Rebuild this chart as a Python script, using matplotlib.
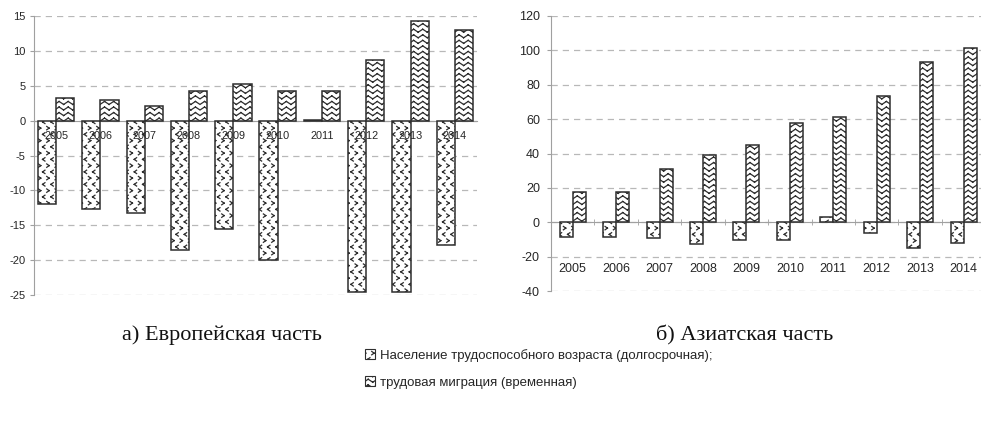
import numpy as np
import matplotlib
matplotlib.use("Agg")
import matplotlib.pyplot as plt
from matplotlib import hatch as mhatch
from matplotlib.path import Path
from matplotlib.patches import Patch

# ---------------- data ----------------
years = ['2005', '2006', '2007', '2008', '2009', '2010', '2011', '2012', '2013', '2014']
eu_longterm = [-12.0, -12.7, -13.3, -18.5, -15.5, -20.0, 0.15, -24.6, -24.6, -17.8]
eu_labour = [3.3, 2.95, 2.1, 4.2, 5.2, 4.2, 4.3, 8.7, 14.3, 13.0]
as_longterm = [-8.5, -8.5, -9.1, -12.6, -10.6, -10.6, 3.3, -6.0, -14.9, -12.0]
as_labour = [17.4, 17.4, 31.2, 38.9, 45.1, 57.5, 61.5, 73.5, 93.3, 101.6]
eu_yticks = [-25, -20, -15, -10, -5, 0, 5, 10, 15]
as_yticks = [-40, -20, 0, 20, 40, 60, 80, 100, 120]
titles = ['а) Европейская часть', 'б) Азиатская часть']
legend_labels = ['Население трудоспособного возраста (долгосрочная);',
                 'трудовая миграция (временная)']


# ---------------- custom hatches ----------------
class ZigZagHatch(mhatch.HatchPatternBase):
    """Rows of '^' chevrons (zigzag), triggered by '*'."""
    def __init__(self, hatch, density):
        n = hatch.count('*')
        self.rows = 18 * n
        self.teeth = 11
        self.num_vertices = self.rows * self.teeth * 4

    def set_vertices_and_codes(self, vertices, codes):
        if not self.num_vertices:
            return
        w = 1.0 / self.teeth
        amp = 0.03
        k = 0
        for r in range(self.rows):
            y = (r + 0.2) / self.rows
            for t in range(self.teeth):
                x0 = t * w
                vertices[k:k + 4] = [(x0, y), (x0 + w / 2, y + amp),
                                     (x0 + w / 2, y + amp), (x0 + w, y)]
                codes[k:k + 4] = [Path.MOVETO, Path.LINETO, Path.MOVETO, Path.LINETO]
                k += 4


class AngleHatch(mhatch.HatchPatternBase):
    """Staggered '<' and '>' marks, triggered by 'o'."""
    def __init__(self, hatch, density):
        n = hatch.count('o')
        self.rows = 16 * n
        self.cols = 12
        self.num_vertices = self.rows * self.cols * 4

    def set_vertices_and_codes(self, vertices, codes):
        if not self.num_vertices:
            return
        hw, hh = 0.012, 0.017
        k = 0
        for r in range(self.rows):
            y = (r + 0.5) / self.rows
            s = -1 if r % 2 == 0 else 1
            for c in range(self.cols):
                x = (c + 0.25 + 0.5 * (r % 2)) / self.cols
                tip = (x + s * hw, y)
                a = (x - s * hw, y + hh)
                b = (x - s * hw, y - hh)
                vertices[k:k + 4] = [a, tip, tip, b]
                codes[k:k + 4] = [Path.MOVETO, Path.LINETO, Path.MOVETO, Path.LINETO]
                k += 4


mhatch._hatch_types = [t for t in mhatch._hatch_types
                       if t not in (mhatch.SmallCircles, mhatch.Stars)] + [AngleHatch, ZigZagHatch]

plt.rcParams['hatch.color'] = '#2e2e2e'
plt.rcParams['hatch.linewidth'] = 0.9
plt.rcParams['axes.unicode_minus'] = False
plt.rcParams['font.family'] = ['Liberation Sans', 'DejaVu Sans']

EDGE = '#2e2e2e'
NEG_HATCH = 'o'
POS_HATCH = '*'
AXC = '#a0a0a0'
TXT = '#262626'

fig = plt.figure(figsize=(9.81, 4.21), dpi=100)
ax1 = fig.add_axes([34 / 981, 1 - 295 / 421, (477 - 34) / 981, (295 - 16) / 421])
ax2 = fig.add_axes([551 / 981, 1 - 291 / 421, (981 - 551) / 981, (291 - 16) / 421])


def style(ax, ylim, yticks, fs, pad):
    ax.set_ylim(ylim)
    ax.set_yticks(yticks)
    ax.yaxis.grid(True, color='#b8b8b8', linestyle=(0, (5, 4)), linewidth=0.9)
    ax.set_axisbelow(True)
    for s in ['top', 'right']:
        ax.spines[s].set_visible(False)
    ax.spines['left'].set_color(AXC)
    ax.spines['bottom'].set_position(('data', 0))
    ax.spines['bottom'].set_color(AXC)
    ax.spines['bottom'].set_zorder(1.5)
    ax.tick_params(axis='y', length=3, color=AXC, labelsize=fs,
                   labelcolor=TXT, pad=pad)
    ax.set_xticks([])


x = np.arange(len(years)) + 0.5

# left chart
w1 = 0.41
ax1.set_xlim(0, 10)
ax1.bar(x - w1 / 2, eu_longterm, width=w1, facecolor='white', edgecolor=EDGE,
        linewidth=1.1, hatch=NEG_HATCH, zorder=2)
ax1.bar(x + w1 / 2, eu_labour, width=w1, facecolor='white', edgecolor=EDGE,
        linewidth=1.1, hatch=POS_HATCH, zorder=2)
style(ax1, (-25, 15), eu_yticks, 8, 3)
for xi, yr in zip(x, years):
    ax1.text(xi, -2.2, yr, ha='center', va='center', fontsize=7.8,
             color=TXT, zorder=3)

# right chart
w2 = 0.30
ax2.set_xlim(0, 9.9)
ax2.bar(x - w2 / 2, as_longterm, width=w2, facecolor='white', edgecolor=EDGE,
        linewidth=1.1, hatch=NEG_HATCH, zorder=2)
ax2.bar(x + w2 / 2, as_labour, width=w2, facecolor='white', edgecolor=EDGE,
        linewidth=1.1, hatch=POS_HATCH, zorder=2)
style(ax2, (-40, 120), as_yticks, 9, 5)
ax2.set_xticks(np.arange(1, 10), minor=True)
ax2.tick_params(axis='x', which='minor', direction='inout', length=4, color=AXC)
for xi, yr in zip(x, years):
    ax2.text(xi, -27, yr, ha='center', va='center', fontsize=9,
             color=TXT, zorder=3)

# titles
fig.text(222 / 981, 1 - 335 / 421, titles[0], ha='center', va='center',
         fontsize=16, family='Liberation Serif', color='#111111')
fig.text(745 / 981, 1 - 335 / 421, titles[1], ha='center', va='center',
         fontsize=16, family='Liberation Serif', color='#111111')

# legend
handles = [Patch(facecolor='white', edgecolor=EDGE, hatch=NEG_HATCH, linewidth=0.8),
           Patch(facecolor='white', edgecolor=EDGE, hatch=POS_HATCH, linewidth=0.8)]
fig.legend(handles, legend_labels, loc='upper left',
           bbox_to_anchor=(358 / 981, 1 - 342 / 421), frameon=False,
           handlelength=0.8, handleheight=0.8, handletextpad=0.35,
           labelspacing=1.1, borderpad=0, labelcolor=TXT,
           prop={'family': 'Liberation Sans', 'size': 9.5})

fig.savefig('out.png', dpi=100)
